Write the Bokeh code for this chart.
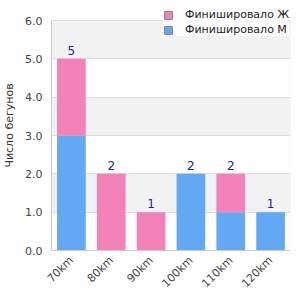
import math
from bokeh.plotting import figure
from bokeh.models import (ColumnDataSource, FactorRange, Range1d, FixedTicker,
                          PrintfTickFormatter, Legend, LegendItem, BoxAnnotation)
from bokeh.core.properties import value
from bokeh.embed import file_html
from bokeh.resources import INLINE

categories = ["70km", "80km", "90km", "100km", "110km", "120km"]
men = [3, 0, 0, 2, 1, 1]
women = [2, 2, 1, 0, 1, 0]
totals = [m + w for m, w in zip(men, women)]
series_names = ["Финишировало М", "Финишировало Ж"]
y_ticks = [0, 1, 2, 3, 4, 5, 6]
y_max = 6

PINK = "#f282b8"
BLUE = "#62a8f2"
FONT = "DejaVu Sans"

# The frame runs to the top of the page so the legend can overlap the top
# margin; the visible plot area is 0..6 (230 px of the 250 px frame).
FRAME_H = 250
PLOT_H = 230
y_top = y_max * FRAME_H / PLOT_H

source = ColumnDataSource(dict(cat=categories, men=men, women=women,
                               total=totals, label=[str(t) for t in totals]))

p = figure(width=300, height=300, output_backend="svg", toolbar_location=None,
           x_range=FactorRange(*categories, range_padding=0),
           y_range=Range1d(0, y_top),
           min_border_left=50, min_border_right=10,
           min_border_top=0, min_border_bottom=50)

stack = p.vbar_stack(["men", "women"], x="cat", width=0.72, source=source,
                     color=[BLUE, PINK], line_color=None)

p.text(x="cat", y="total", text="label", source=source,
       text_align="center", text_baseline="bottom", y_offset=-4,
       text_font=value(FONT), text_font_size="12px", text_color="#22228a")

# legend proxies (a single NaN bar each, so nothing is drawn in the plot)
nan = float("nan")
proxy_w = p.vbar(x=[categories[0]], top=[nan], bottom=[nan], width=0.5,
                 fill_color=PINK, line_color="#888888")
proxy_m = p.vbar(x=[categories[0]], top=[nan], bottom=[nan], width=0.5,
                 fill_color=BLUE, line_color="#888888")

legend = Legend(items=[LegendItem(label=series_names[1], renderers=[proxy_w], index=0),
                       LegendItem(label=series_names[0], renderers=[proxy_m], index=0)],
                location=(112, 214), orientation="vertical",
                glyph_width=10, glyph_height=10, label_height=12,
                label_standoff=12, spacing=2, padding=5, margin=0,
                label_text_font=FONT, label_text_font_size="11px",
                label_text_color="#222222",
                background_fill_color="white", background_fill_alpha=1,
                border_line_color=None)
p.add_layout(legend, "center")

p.outline_line_color = None
p.background_fill_color = "white"
p.border_fill_color = "white"

p.xgrid.grid_line_color = None
p.ygrid.ticker = FixedTicker(ticks=y_ticks)
p.ygrid.grid_line_color = "#dddddd"
p.ygrid.band_fill_color = "#f2f2f2"
p.ygrid.band_fill_alpha = 1

# plot-area border (0..6)
p.add_layout(BoxAnnotation(bottom=0, top=y_max, fill_alpha=0,
                           line_color="#dddddd", line_width=1, level="underlay"))

p.yaxis.ticker = FixedTicker(ticks=y_ticks)
p.yaxis.bounds = (0, y_max)
p.yaxis.formatter = PrintfTickFormatter(format="%.1f")
p.yaxis.axis_label = "Число бегунов"
p.yaxis.axis_label_text_font = FONT
p.yaxis.axis_label_text_font_style = "normal"
p.yaxis.axis_label_text_font_size = "11px"
p.yaxis.axis_label_text_color = "#333333"
p.yaxis.axis_label_standoff = 6
p.yaxis.major_label_text_font = FONT
p.yaxis.major_label_text_font_size = "11px"
p.yaxis.major_label_text_color = "#444444"
p.yaxis.major_label_standoff = 9

for ax in (p.xaxis[0], p.yaxis[0]):
    ax.axis_line_color = "#cccccc"
    ax.major_tick_line_color = None
    ax.minor_tick_line_color = None
    ax.major_tick_out = 0
    ax.major_tick_in = 0
    ax.minor_tick_out = 0

p.xaxis.major_label_orientation = math.pi / 4
p.xaxis.major_label_text_font = FONT
p.xaxis.major_label_text_font_size = "11px"
p.xaxis.major_label_text_color = "#444444"
p.xaxis.major_label_standoff = 8

open("out.html", "w").write(file_html(p, INLINE))
